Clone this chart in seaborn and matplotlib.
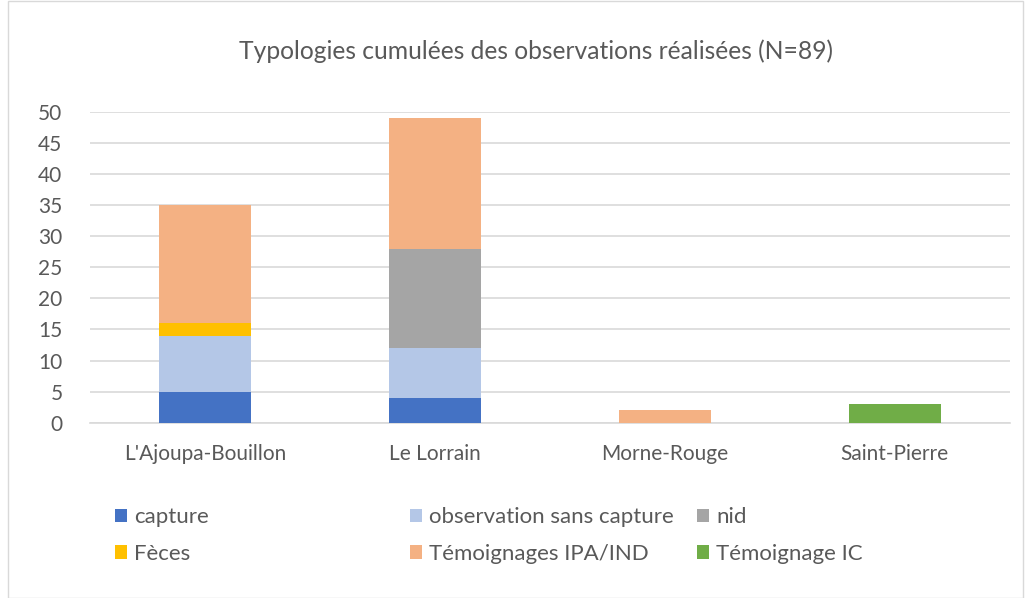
import numpy as np
import pandas as pd
import matplotlib
matplotlib.use('Agg')
import matplotlib.pyplot as plt
from matplotlib.patches import Patch, Rectangle
import seaborn as sns

# Data
communes = ["L'Ajoupa-Bouillon", 'Le Lorrain', 'Morne-Rouge', 'Saint-Pierre']
capture = [5, 4, 0, 0]
observation = [9, 8, 0, 0]
nid = [0, 16, 0, 0]
feces = [2, 0, 0, 0]
temoignages_ipa = [19, 21, 2, 0]
temoignage_ic = [0, 0, 0, 3]

series = [
    ('capture', capture, '#4472c4'),
    ('observation sans capture', observation, '#b4c7e7'),
    ('nid', nid, '#a5a5a5'),
    ('Fèces', feces, '#ffc000'),
    ('Témoignages IPA/IND', temoignages_ipa, '#f4b183'),
    ('Témoignage IC', temoignage_ic, '#70ad47'),
]

sns.set_style('white')
plt.rcParams['font.family'] = ['Lato', 'DejaVu Sans']
txt = '#595959'

fig = plt.figure(figsize=(10.25, 5.98), dpi=100)
ax = fig.add_axes([0.088, 0.293, 0.897, 0.52])

# cumulative overlay, topmost segment first
cum = np.cumsum(np.array([s[1] for s in series]), axis=0)
for i in reversed(range(len(series))):
    df = pd.DataFrame({'commune': communes, 'val': cum[i]})
    sns.barplot(data=df, x='commune', y='val', order=communes, color=series[i][2],
                saturation=1, width=0.4, ax=ax, zorder=3, linewidth=0)

ax.set_ylim(0, 50)
ax.set_yticks(range(0, 51, 5))
ax.set_xlim(-0.5, 3.5)
ax.grid(axis='y', color='#d9d9d9', linewidth=1.2, zorder=0)
ax.set_axisbelow(True)
for s in ['top', 'right', 'left']:
    ax.spines[s].set_visible(False)
ax.spines['bottom'].set_color('#d9d9d9')
ax.spines['bottom'].set_linewidth(1.2)
ax.set_xlabel('')
ax.set_ylabel('')
ax.tick_params(axis='both', length=0, labelsize=15, colors=txt)
ax.tick_params(axis='x', pad=15)
ax.tick_params(axis='y', pad=20)

fig.text(0.523, 0.915, 'Typologies cumulées des observations réalisées (N=89)',
         ha='center', va='center', fontsize=17.7, color=txt)

# legend in three columns placed like the original
cols = [(0.112, [0, 3]), (0.4, [1, 4]), (0.68, [2, 5])]
for xpos, idx in cols:
    handles = [Patch(facecolor=series[k][2], edgecolor='none') for k in idx]
    labels = [series[k][0] for k in idx]
    leg = fig.legend(handles, labels, loc='upper left', bbox_to_anchor=(xpos, 0.152),
                     bbox_transform=fig.transFigure, frameon=False, fontsize=16,
                     handlelength=0.55, handleheight=0.55, handletextpad=0.3,
                     labelspacing=0.75, borderaxespad=0, borderpad=0)
    for t in leg.get_texts():
        t.set_color(txt)

fig.patches.append(Rectangle((0.008, 0.0), 0.99, 0.998, transform=fig.transFigure,
                             fill=False, edgecolor='#d9d9d9', linewidth=1))

fig.savefig('out.png', dpi=100)
